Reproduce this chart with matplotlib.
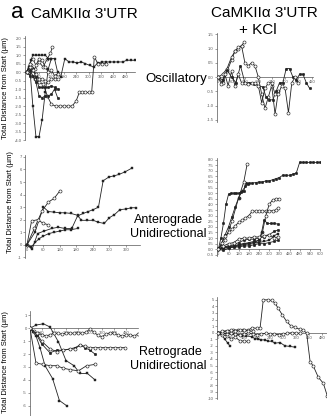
import matplotlib
matplotlib.use("Agg")
import matplotlib.pyplot as plt
from matplotlib.ticker import FormatStrFormatter

plt.rcParams['font.family'] = ['Liberation Sans', 'DejaVu Sans']

W, H = 327, 416

# ---- top left: oscillatory, CaMKIIa 3'UTR ----
tl_t1 = [0, 15, 30, 45, 60, 75, 90, 105, 120]
tl_y1 = [0, 0.3, -2.0, -3.8, -3.8, -2.8, -1.2, 0.2, 0.8]
tl_t2 = [0, 20, 40, 60, 80, 100, 115, 125]
tl_y2 = [0, 0.4, 0.2, 0.6, 0.3, 0.8, 1.1, 1.5]
tl_t3 = [0, 10, 20, 30, 45, 60, 75, 90, 105, 120, 135, 150, 165, 185,
         205, 225, 245, 265, 285, 305, 325, 345, 365, 385, 405, 425, 445, 465, 485, 505, 525]
tl_y3 = [0, 0.3, 0.7, 1.0, 1.0, 1.0, 1.0, 1.0, 0.8, 0.8, 0.8, 0.0, -0.3, 0.8,
         0.6, 0.6, 0.55, 0.6, 0.5, 0.4, 0.3, 0.55, 0.6, 0.6, 0.6, 0.6, 0.6, 0.6, 0.7, 0.7, 0.7]
tl_t4 = [0, 20, 40, 60, 80, 100, 120, 140, 160, 180, 200, 220, 240, 255, 270, 285, 300, 315, 328, 345, 365, 385]
tl_y4 = [0, -0.2, -0.4, -0.6, -0.7, -1.4, -1.9, -2.0, -2.0, -2.0, -2.0, -2.0, -1.7, -1.2, -1.2, -1.2, -1.2, -1.2,
         0.9, 0.5, 0.5, 0.5]
tl_t5 = [0, 15, 30, 45, 60, 75, 90, 105, 120, 135, 150]
tl_y5 = [0, -0.2, 0.2, -0.3, -0.9, -0.9, -0.9, -0.9, -0.8, -0.9, -1.0]
tl_y6 = [0, 0.3, 0.1, -0.1, -0.4, -0.4, -0.5, -0.6, -0.4, -0.4, -0.4]
tl_y7 = [0, 0.1, -0.2, -0.6, -1.4, -1.5, -1.4, -1.4, -1.3, -1.0, -1.5]
tl_y8 = [0, 0.5, 0.8, 0.4, 0.8, 0.7, 0.3, 0.0, 0.1, -0.2, -0.1]

# ---- top right: oscillatory, + KCl ----
tr_t1 = [0, 20, 40, 60, 75, 90, 105, 120, 135, 150, 165, 180, 195, 210, 225, 240, 255, 270]
tr_y1 = [0, -0.2, 0.2, 0.6, 0.9, 1.0, 1.1, 0.5, 0.4, 0.5, 0.4, 0.0, -0.6, -1.1, -0.7, -0.3, -1.3, -0.5]
tr_t2 = [0, 20, 40, 60, 75, 90, 105, 118]
tr_y2 = [0, 0.1, 0.3, 0.7, 0.9, 1.05, 1.1, 1.25]
tr_t3 = [0, 20, 40, 60, 80, 100, 120, 140, 160, 180, 200, 215, 230, 245, 260, 275, 290, 305, 320, 335,
         350, 365, 380, 395, 410]
tr_y3 = [0, -0.1, 0.25, 0.0, -0.2, 0.4, -0.2, -0.2, -0.25, -0.3, -0.35, -0.7, -0.8, -0.8, -0.5,
         -0.2, -0.2, 0.3, 0.3, 0.0, -0.1, 0.1, 0.1, -0.2, -0.4]
tr_t4 = [0, 15, 30, 45, 60, 75, 90, 105, 120, 135, 150, 165, 180, 195, 210, 225, 240, 255, 270, 285,
         300, 315, 330, 345, 360]
tr_y4 = [0, -0.25, 0.1, -0.3, 0.2, -0.3, 0.1, -0.2, -0.2, -0.25, -0.2, -0.2, -0.3, -0.9, -0.4,
         -0.2, -0.2, -0.6, -0.6, -0.3, -0.4, -1.25, -0.2, 0.0, -0.2]

# ---- middle left: anterograde ----
ml_t1 = [0, 19, 39, 63, 90, 114, 138, 163, 184, 205, 223, 241, 260, 277, 298, 318, 334, 356, 381]
ml_y1 = [0, -0.35, 0.9, 1.1, 1.3, 1.4, 1.3, 1.3, 2.3, 2.5, 2.65, 2.8, 3.0, 5.1, 5.4, 5.5, 5.6, 5.8, 6.1]
ml_t2 = [0, 29, 60, 78, 99, 120, 138, 160, 184, 198, 220, 241, 259, 281, 299, 318, 338, 359, 380, 398]
ml_y2 = [0, 1.0, 3.0, 2.65, 2.6, 2.55, 2.55, 2.5, 2.35, 1.95, 1.95, 1.95, 1.8, 1.7, 2.15, 2.4, 2.8, 2.85, 2.95, 2.95]
ml_t3 = [0, 27, 55, 78, 99, 120]
ml_y3 = [0, 1.3, 2.7, 3.4, 3.7, 4.3]
ml_t4 = [0, 17, 39, 60, 78]
ml_y4 = [0, 1.9, 2.0, 1.7, 1.6]
ml_t5 = [0, 15, 30, 45, 60, 80, 100, 120, 140, 160, 184]
ml_y5 = [0, -0.2, 0.2, 0.5, 0.7, 0.9, 1.0, 1.1, 1.2, 1.2, 1.3]

# ---- middle right: anterograde + KCl ----
mr_t1 = [0, 15, 30, 45, 60, 75, 90, 105, 120, 135, 150, 165, 180, 200, 220, 240, 260, 280, 300, 320,
         340, 360, 380, 400, 420, 440, 460, 480, 500, 520, 540, 560, 580, 600]
mr_y1 = [0, 1.0, 2.3, 4.0, 4.9, 5.0, 5.0, 5.0, 5.0, 5.1, 5.2, 5.9, 5.9, 5.9, 5.95, 6.0, 6.0, 6.1, 6.1,
         6.2, 6.3, 6.4, 6.6, 6.6, 6.6, 6.7, 6.8, 7.75, 7.75, 7.75, 7.75, 7.75, 7.75, 7.75]
mr_t2 = [0, 40, 80, 120, 150, 170]
mr_y2 = [0, 0.8, 2.5, 4.6, 6.0, 7.6]
mr_t3 = [0, 20, 40, 60, 80, 100, 120, 140, 160, 175]
mr_y3 = [0, 0.5, 1.3, 2.0, 2.9, 3.8, 4.6, 5.2, 5.6, 5.8]
mr_t4 = [0, 20, 40, 60, 80, 100, 120, 140, 160, 180, 200, 220, 240, 260, 280, 300, 320, 340, 355]
mr_y4 = [0, 0.6, 1.2, 1.5, 1.8, 2.1, 2.4, 2.6, 2.8, 3.0, 3.4, 3.4, 3.4, 3.4, 3.4, 3.4, 3.45, 3.5, 3.7]
mr_t5 = [0, 30, 60, 90, 120, 150, 180, 210, 240, 260, 280, 300, 320, 340, 360]
mr_y5 = [0, 0.2, 0.3, 0.3, 0.4, 0.5, 0.5, 0.6, 0.8, 1.5, 3.0, 4.0, 4.4, 4.5, 4.5]
mr_t6 = [0, 30, 60, 90, 120, 150, 180, 210, 240, 255, 270, 290, 310, 330, 350]
mr_y6 = [0, 0.1, 0.2, 0.3, 0.4, 0.5, 0.6, 0.7, 0.8, 1.5, 2.6, 2.3, 2.3, 2.3, 2.25]
mr_t7 = [0, 30, 60, 90, 120, 150, 180, 210, 240, 270, 300, 330, 350]
mr_y7 = [0, 0.2, 0.3, 0.4, 0.6, 0.8, 0.9, 0.9, 1.0, 1.1, 1.3, 1.6, 1.7]
mr_y8 = [0, 0.1, 0.15, 0.2, 0.3, 0.4, 0.5, 0.6, 0.6, 0.7, 0.8, 1.2, 1.4]
mr_y9 = [0, -0.1, 0.1, 0.2, 0.2, 0.3, 0.3, 0.4, 0.5, 0.5, 0.6, 0.7, 0.8]
mr_y10 = [0, 0.3, 0.5, 0.6, 0.9, 1.0, 1.0, 1.1, 1.1, 1.2, 1.3, 1.0, 1.1]

# ---- bottom left: retrograde ----
bl_t1 = [0, 15, 30, 50, 75, 113, 147, 183]
bl_y1 = [0, -0.3, -0.6, -1.5, -2.9, -3.9, -5.6, -6.0]
bl_t2 = [0, 30, 67, 100, 142, 180, 220, 250, 287, 325]
bl_y2 = [0, 0.25, 0.35, 0.1, -1.05, -2.5, -2.9, -3.5, -3.5, -4.0]
bl_t3 = [0, 20, 40, 60, 80, 100, 120, 140, 160, 180, 200, 220, 240, 260, 280, 300, 320, 340, 360, 380,
         400, 420, 440, 460, 480, 500, 520, 540]
bl_y3 = [0, -0.2, -0.4, -0.5, -0.6, -0.5, -0.4, -0.4, -0.45, -0.4, -0.35, -0.4, -0.35, -0.4, -0.3,
         -0.05, -0.3, -0.55, -0.65, -0.45, -0.35, -0.4, -0.5, -0.6, -0.55, -0.5, -0.6, -0.45]
bl_t4 = [0, 33, 58, 100, 133, 167, 200, 225, 250, 275, 300, 325]
bl_y4 = [0, -0.5, -1.2, -1.9, -1.7, -1.7, -1.6, -1.5, -1.3, -1.5, -1.7, -2.0]
bl_t5 = [0, 33, 58, 100, 133, 167, 200, 225, 250, 275, 300, 325, 350, 375, 400, 425, 450, 475]
bl_y5 = [0, -0.4, -1.0, -1.6, -1.8, -1.7, -1.6, -1.6, -1.3, -1.4, -1.5, -1.5, -1.5, -1.5, -1.5, -1.5, -1.5, -1.5]
bl_t6 = [0, 30, 67, 100, 133, 167, 200, 242, 283, 325]
bl_y6 = [0, -2.7, -2.8, -2.9, -2.9, -3.1, -3.2, -3.3, -2.9, -2.8]

# ---- bottom right: retrograde + KCl ----
br_t1 = [0, 24, 48, 71, 94, 117, 140, 158, 178, 194, 209, 232, 248, 263, 278, 297, 317, 337, 355, 378,
         394, 409, 425, 440, 463, 486, 505]
br_y1 = [0, 0.15, 0.3, 0.4, 0.4, 0.4, 0.4, 0.76, 0.66, 0.66, 5.0, 5.0, 4.9, 4.5, 3.7, 2.7, 1.7, 1.0,
         0.8, 0.5, 0.4, -0.1, -4.4, -5.1, -6.8, -7.7, -9.7]
br_t2 = [0, 20, 40, 63, 85, 109, 130, 155, 170, 186, 200, 215, 232, 248, 263, 286, 309, 332, 355]
br_y2 = [0, -0.1, -0.15, -0.25, -0.35, -0.45, -0.5, -0.6, -0.9, -1.0, -1.1, -1.1, -1.3, -1.3, -1.6,
         -1.5, -2.0, -2.1, -2.2]
br_t3 = [0, 17, 32, 45, 55]
br_y3 = [0, -0.35, -1.0, -1.6, -2.0]
br_t4 = [0, 20, 40, 60, 80, 100, 120, 140]
br_y4 = [0, -0.3, -0.5, -0.9, -0.7, -1.2, -1.3, -1.3]
br_t5 = [0, 20, 40, 60, 80, 100, 120, 140, 160, 180, 200, 220, 240, 260, 280, 300, 320, 340, 360, 380]
br_y5 = [0, -0.1, -0.2, -0.1, -0.2, -0.3, -0.2, -0.1, -0.2, -0.3, -0.2, -0.1, -0.2, -0.25, -0.3,
         -0.2, -0.1, 0.0, -0.05, -0.1]
br_t6 = [0, 20, 40, 60, 80, 100, 120, 140, 160]
br_y6 = [0, 0.2, 0.3, 0.35, 0.3, 0.4, 0.35, 0.3, 0.2]


def trace(ax, t, y, kind):
    if kind == 'open':
        ax.plot(t, y, '-o', color='#222222', mfc='white', ms=2.2, mew=0.45, lw=0.6, zorder=3)
    elif kind == 'square':
        ax.plot(t, y, '-s', color='#222222', mfc='#222222', ms=1.9, mew=0.3, lw=0.6, zorder=3)
    else:
        ax.plot(t, y, '-o', color='#222222', mfc='#222222', ms=1.9, mew=0.3, lw=0.6, zorder=3)


def panel(px_box, xlim, ylim, xticks, yticks, yfmt):
    l, t, r, b = px_box
    ax = fig.add_axes([l / W, 1 - b / H, (r - l) / W, (b - t) / H])
    ax.set_xlim(*xlim)
    ax.set_ylim(*ylim)
    for s in ('top', 'right'):
        ax.spines[s].set_visible(False)
    ax.spines['bottom'].set_position(('data', 0))
    for s in ('left', 'bottom'):
        ax.spines[s].set_linewidth(0.5)
        ax.spines[s].set_color('#555555')
    ax.set_xticks(xticks)
    ax.set_yticks(yticks)
    ax.yaxis.set_major_formatter(FormatStrFormatter(yfmt))
    ax.tick_params(labelsize=3, length=1.5, width=0.4, pad=0.8, colors='#555555')
    ax.patch.set_alpha(0)
    return ax


fig = plt.figure(figsize=(W / 100, H / 100), dpi=100)

# top left
ax = panel((25, 36, 135, 140), (-8, 525), (-3.98, 2.13), [60, 120, 180, 240, 300, 360, 420, 480],
           [2.0, 1.5, 1.0, 0.5, 0.0, -0.5, -1.0, -1.5, -2.0, -2.5, -3.0, -3.5, -4.0], '%.1f')
trace(ax, tl_t1, tl_y1, 'square')
trace(ax, tl_t2, tl_y2, 'open')
trace(ax, tl_t3, tl_y3, 'square')
trace(ax, tl_t4, tl_y4, 'open')
trace(ax, tl_t5, tl_y5, 'dot')
trace(ax, tl_t5, tl_y6, 'open')
trace(ax, tl_t5, tl_y7, 'dot')
trace(ax, tl_t5, tl_y8, 'open')

# top right
ax = panel((217, 33, 313, 122), (-5, 425), (-1.58, 1.55), [0, 60, 120, 180, 240, 300, 360, 420],
           [1.5, 1.0, 0.5, 0.0, -0.5, -1.0, -1.5], '%.1f')
trace(ax, tr_t1, tr_y1, 'open')
trace(ax, tr_t2, tr_y2, 'open')
trace(ax, tr_t3, tr_y3, 'dot')
trace(ax, tr_t4, tr_y4, 'open')

# middle left
ax = panel((25, 155, 140, 258), (-7, 411), (-1.05, 7.15), [0, 60, 120, 180, 240, 300, 360],
           [-1, 0, 1, 2, 3, 4, 5, 6, 7], '%d')
trace(ax, ml_t1, ml_y1, 'square')
trace(ax, ml_t2, ml_y2, 'square')
trace(ax, ml_t3, ml_y3, 'open')
trace(ax, ml_t4, ml_y4, 'open')
trace(ax, ml_t5, ml_y5, 'square')

# middle right
ax = panel((217, 158, 320, 256), (-8, 600), (-0.6, 8.14), [0, 60, 120, 180, 240, 300, 360, 420, 480, 540, 600],
           [-0.5, 0.0, 0.5, 1.0, 1.5, 2.0, 2.5, 3.0, 3.5, 4.0, 4.5, 5.0, 5.5, 6.0, 6.5, 7.0, 7.5, 8.0], '%.1f')
trace(ax, mr_t1, mr_y1, 'dot')
trace(ax, mr_t2, mr_y2, 'open')
trace(ax, mr_t3, mr_y3, 'dot')
trace(ax, mr_t4, mr_y4, 'open')
trace(ax, mr_t5, mr_y5, 'open')
trace(ax, mr_t6, mr_y6, 'dot')
trace(ax, mr_t7, mr_y7, 'dot')
trace(ax, mr_t7, mr_y8, 'square')
trace(ax, mr_t7, mr_y9, 'dot')
trace(ax, mr_t7, mr_y10, 'open')

# bottom left
ax = panel((30, 311, 138, 416), (0, 540), (-6.8, 1.34), [60, 120, 180, 240, 300, 360, 420, 480],
           [1, 0, -1, -2, -3, -4, -5, -6], '%d')
trace(ax, bl_t1, bl_y1, 'square')
trace(ax, bl_t2, bl_y2, 'square')
trace(ax, bl_t3, bl_y3, 'open')
trace(ax, bl_t4, bl_y4, 'dot')
trace(ax, bl_t5, bl_y5, 'open')
trace(ax, bl_t6, bl_y6, 'open')

# bottom right
ax = panel((217, 297, 327, 399), (-4.6, 503), (-10.1, 5.43), [0, 60, 120, 180, 240, 300, 360, 420, 480],
           [5, 4, 3, 2, 1, 0, -1, -2, -3, -4, -5, -6, -7, -8, -9, -10], '%d')
trace(ax, br_t1, br_y1, 'open')
trace(ax, br_t2, br_y2, 'square')
trace(ax, br_t3, br_y3, 'square')
trace(ax, br_t4, br_y4, 'open')
trace(ax, br_t5, br_y5, 'open')
trace(ax, br_t6, br_y6, 'open')


def ftext(x, y, s, **kw):
    fig.text(x / W, 1 - y / H, s, va='center', **kw)


ftext(11, 13, 'a', fontsize=16, ha='left')
ftext(84, 14, "CaMKII\u03b1 3'UTR", fontsize=11, ha='center')
ftext(264, 13, "CaMKII\u03b1 3'UTR", fontsize=11, ha='center')
ftext(258, 30, '+ KCl', fontsize=11, ha='center')
ftext(145, 79, 'Oscillatory', fontsize=9.5, ha='left')
ftext(169, 220, 'Anterograde', fontsize=9, ha='center')
ftext(168, 234, 'Unidirectional', fontsize=9, ha='center')
ftext(170, 352, 'Retrograde', fontsize=9, ha='center')
ftext(168, 366, 'Unidirectional', fontsize=9, ha='center')
ylab = 'Total Distance from Start (\u00b5m)'
ftext(6, 88, ylab, fontsize=5.5, ha='center', rotation=90)
ftext(11, 202, ylab, fontsize=5.5, ha='center', rotation=90)
ftext(6, 362, ylab, fontsize=5.5, ha='center', rotation=90)

fig.savefig('out.png', dpi=100)
